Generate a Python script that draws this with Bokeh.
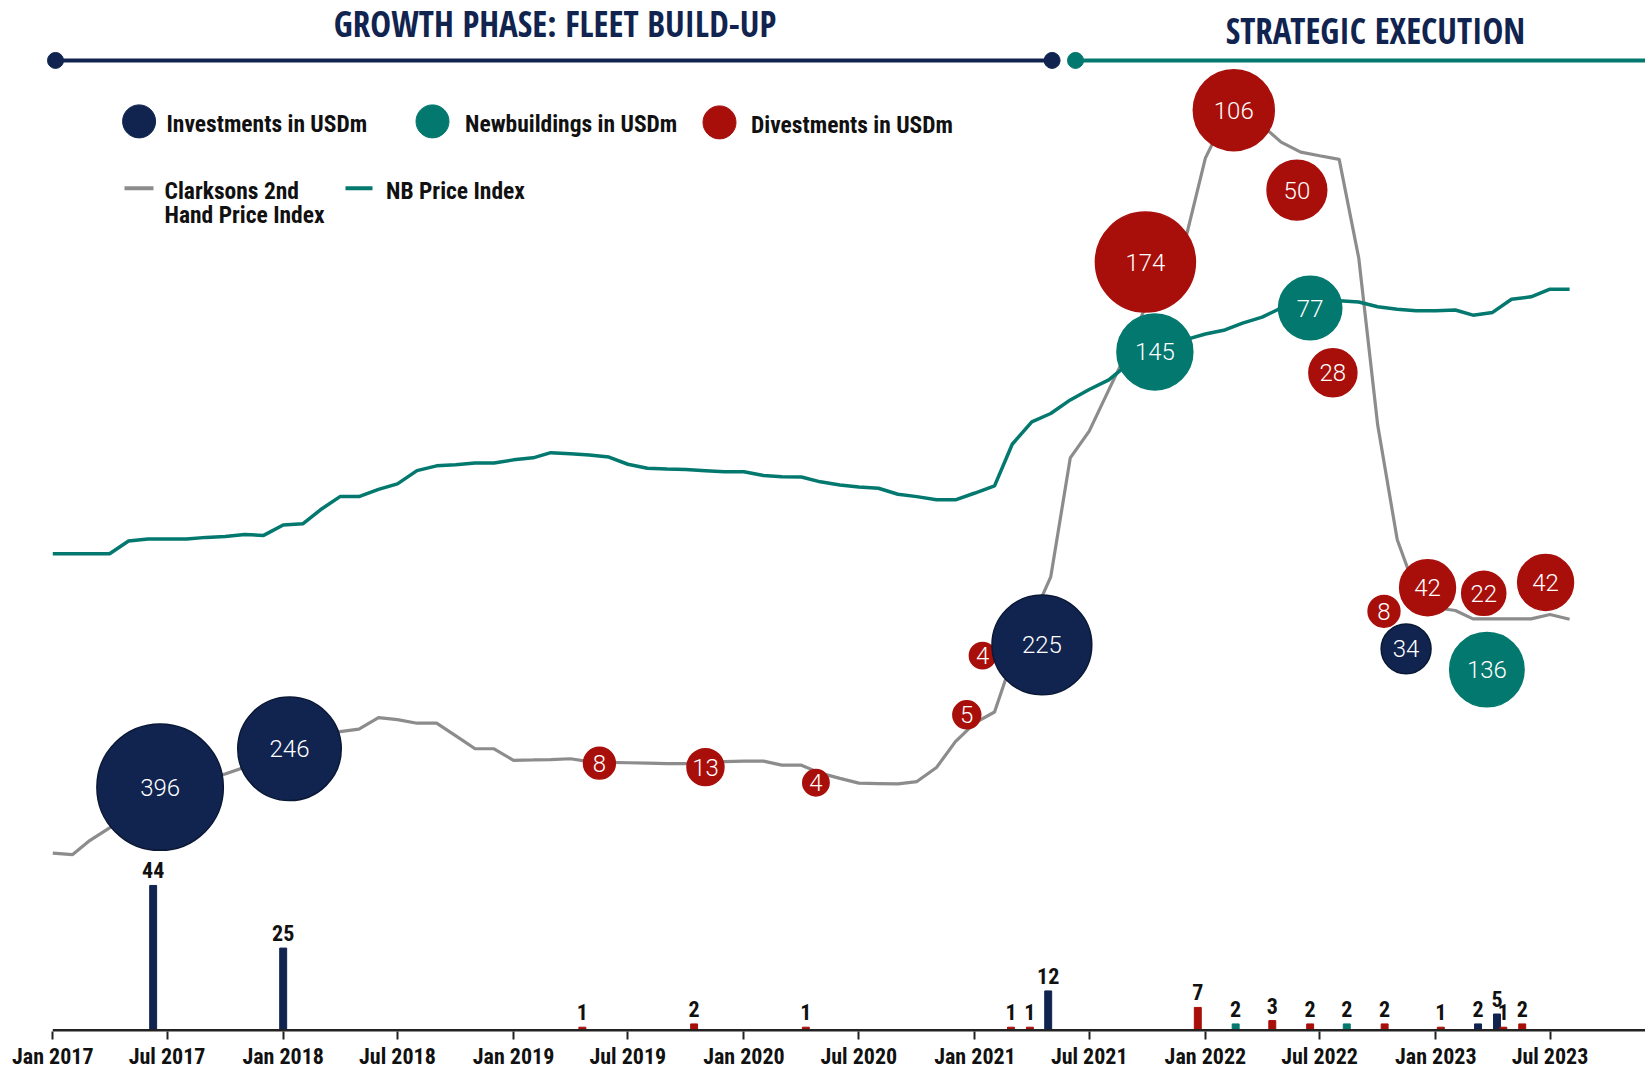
import math
import pandas as pd
from bokeh.plotting import figure
from bokeh.models import Range1d, DatetimeTickFormatter, MonthsTicker, ColumnDataSource
from bokeh.core.properties import value
from bokeh.embed import file_html
from bokeh.resources import INLINE

# ------------------------------------------------------------------ data
index_months = pd.date_range("2017-01-01", periods=80, freq="MS")
clarksons_2nd_hand = [44.4, 44.0, 47.6, 50.7, 53.3, 56.3, 59.0, 61.3, 62.8, 64.2,
                      65.9, 68.5, 70.8, 72.8, 74.3, 74.8, 75.4, 78.3, 77.8, 76.9,
                      76.9, 73.8, 70.5, 70.5, 67.6, 67.7, 67.8, 68.0, 67.3, 67.1,
                      67.0, 66.9, 66.8, 66.8, 67.0, 67.3, 67.4, 67.4, 66.4, 66.4,
                      64.4, 63.1, 61.9, 61.8, 61.7, 62.3, 65.8, 72.3, 77.0, 79.7,
                      92.8, 102.8, 113.5, 143.3, 150.0, 160.3, 170.5, 182.3, 190.0, 198.3,
                      218.3, 228.3, 229.8, 226.5, 222.3, 219.8, 218.9, 218.0, 193.3, 151.5,
                      122.8, 109.8, 105.8, 105.1, 103.0, 103.0, 103.0, 103.0, 104.1, 102.9]
nb_price_index = [119.3, 119.3, 119.3, 119.3, 122.5, 123.0, 123.0, 123.0, 123.4, 123.6,
                  124.1, 123.9, 126.5, 126.8, 130.3, 133.6, 133.6, 135.4, 136.8, 140.1,
                  141.3, 141.6, 142.0, 142.0, 142.8, 143.3, 144.6, 144.3, 144.0, 143.5,
                  141.7, 140.7, 140.5, 140.4, 140.1, 139.8, 139.8, 138.9, 138.6, 138.5,
                  137.3, 136.5, 136.0, 135.7, 134.2, 133.6, 132.8, 132.8, 134.5, 136.3,
                  146.7, 152.3, 154.4, 157.8, 160.4, 162.8, 166.8, 169.0, 171.0, 172.9,
                  174.3, 175.3, 177.0, 178.5, 180.8, 182.3, 182.8, 182.6, 182.3, 181.1,
                  180.5, 180.1, 180.1, 180.3, 179.0, 179.7, 183.0, 183.6, 185.5, 185.5]

inv_dates = ["2017-06-20", "2018-01-11", "2021-04-17", "2022-11-15"]
inv_usdm = [396, 246, 225, 34]
inv_level = [60.9, 70.5, 96.5, 95.5]

nb_dates = ["2021-10-13", "2022-06-16", "2023-03-23"]
nb_usdm = [145, 77, 136]
nb_level = [169.8, 180.8, 90.3]

div_dates = ["2019-05-17", "2019-11-01", "2020-04-24", "2020-12-19", "2021-01-13",
             "2021-09-28", "2022-02-15", "2022-05-26", "2022-07-22", "2022-10-11",
             "2022-12-19", "2023-03-18", "2023-06-24"]
div_usdm = [8, 13, 4, 5, 4, 174, 106, 50, 28, 8, 42, 22, 42]
div_level = [66.9, 65.9, 62.0, 79.0, 93.8, 192.3, 230.3, 210.3, 164.6, 104.9,
             110.8, 109.4, 112.1]

bar_dates = ["2017-06-09", "2018-01-01", "2019-04-20", "2019-10-14", "2020-04-08",
             "2021-02-27", "2021-03-29", "2021-04-27", "2021-12-20", "2022-02-18",
             "2022-04-17", "2022-06-16", "2022-08-13", "2022-10-12", "2023-01-09",
             "2023-03-09", "2023-04-08", "2023-04-18", "2023-05-18"]
bar_vessels = [44, 25, 1, 2, 1, 1, 1, 12, 7, 2, 3, 2, 2, 2, 1, 2, 5, 1, 2]
bar_kind = ["inv", "inv", "div", "div", "div", "div", "div", "inv", "div", "nb",
            "div", "div", "nb", "div", "div", "inv", "inv", "div", "div"]

phase_titles = ["GROWTH PHASE: FLEET BUILD-UP", "STRATEGIC EXECUTION"]
bubble_legend = ["Investments in USDm", "Newbuildings in USDm", "Divestments in USDm"]
line_legend = ["Clarksons 2nd", "Hand Price Index", "NB Price Index"]

# ------------------------------------------------------------------ style
NAVY = "#10244f"
TEAL = "#03786e"
RED = "#a80f0b"
GREY = "#8c8c8c"
KIND_COLOR = {"inv": NAVY, "nb": TEAL, "div": RED}
LIGHT_FONT = "Roboto Light, Roboto"
COND_FONT = "Roboto Condensed"
TITLE_FONT = "Open Sans Condensed"
# bubble radius (px) = a + b * sqrt(value), per series
BUBBLE_SCALE = {"div": (6.6, 3.29), "inv": (9.1, 2.72), "nb": (14.7, 1.93)}

# ------------------------------------------------------------------ layout helpers
W, H = 1645, 1071
PX_PER_DAY = 0.6312
JAN17_PX = 52.3          # page x of Jan 2017
BASE_PX = 1031.0         # page y of the baseline
FRAME_BOTTOM_PX = 1032.0
PX_PER_UNIT = 4.0        # index units
PX_PER_VESSEL = 3.3
T0 = pd.Timestamp("2017-01-01")


def ms(d):
    return pd.Timestamp(d).value / 1e6


def px_x(px):
    return ms(T0 + pd.Timedelta(days=(px - JAN17_PX) / PX_PER_DAY))


def px_y(py):
    return (BASE_PX - py) / PX_PER_UNIT


def radius(kind, v):
    a, b = BUBBLE_SCALE[kind]
    return a + b * math.sqrt(v)


x_start, x_end = px_x(0), px_x(W)

p = figure(width=W, height=H, x_axis_type="datetime", output_backend="svg",
           toolbar_location=None, y_axis_location=None,
           x_range=Range1d(x_start, x_end),
           y_range=Range1d(px_y(FRAME_BOTTOM_PX), px_y(0)),
           min_border_left=0, min_border_right=0, min_border_top=0,
           min_border_bottom=int(H - FRAME_BOTTOM_PX))
p.extra_y_ranges = {"bars": Range1d(-(FRAME_BOTTOM_PX - BASE_PX) / PX_PER_VESSEL,
                                    BASE_PX / PX_PER_VESSEL)}
p.grid.grid_line_color = None
p.outline_line_color = None

ax = p.xaxis[0]
ax.ticker = MonthsTicker(months=[0, 6])
ax.formatter = DatetimeTickFormatter(months="%b %Y", days="%b %Y", years="%b %Y")
ax.axis_line_color = None
ax.major_tick_out = 8
ax.major_tick_in = 0
ax.major_tick_line_width = 2
ax.major_tick_line_color = "#222222"
ax.minor_tick_line_color = None
ax.major_label_text_font = COND_FONT
ax.major_label_text_font_size = "22px"
ax.major_label_text_font_style = "bold"
ax.major_label_text_color = "#111111"
ax.major_label_standoff = 4

# ------------------------------------------------------------------ index lines
p.line([ms(d) for d in index_months], clarksons_2nd_hand, line_color=GREY, line_width=3.2)
p.line([ms(d) for d in index_months], nb_price_index, line_color=TEAL, line_width=3.5)

# ------------------------------------------------------------------ bars
bars = ColumnDataSource(dict(
    x=[ms(d) for d in bar_dates], top=bar_vessels,
    color=[KIND_COLOR[k] for k in bar_kind], label=[str(v) for v in bar_vessels]))
p.vbar(x="x", top="top", bottom=0, width=11 * 86400000, color="color",
       source=bars, y_range_name="bars")
p.text(x="x", y="top", text="label", source=bars, y_range_name="bars",
       text_align="center", text_baseline="bottom", y_offset=-7,
       text_font=value(COND_FONT), text_font_size="22px", text_font_style="bold",
       text_color="#111111")
p.segment(x0=[ms(T0)], y0=[0], x1=[x_end], y1=[0], y_range_name="bars",
          line_color="#222222", line_width=3)

# ------------------------------------------------------------------ bubbles
for kind, dates, vals, lev, outline in [
        ("div", div_dates, div_usdm, div_level, RED),
        ("inv", inv_dates, inv_usdm, inv_level, "#0a1836"),
        ("nb", nb_dates, nb_usdm, nb_level, TEAL)]:
    src = ColumnDataSource(dict(x=[ms(d) for d in dates], y=lev,
                                size=[2 * radius(kind, v) for v in vals],
                                label=[str(v) for v in vals]))
    p.scatter(x="x", y="y", size="size", source=src, marker="circle",
              fill_color=KIND_COLOR[kind], line_color=outline, line_width=1.5)
    p.text(x="x", y="y", text="label", source=src, text_align="center",
           text_baseline="middle", text_font=value(LIGHT_FONT), text_font_size="24px",
           text_color="white")

# ------------------------------------------------------------------ phase header
p.segment(x0=[px_x(55)], y0=[px_y(60)], x1=[px_x(1051.6)], y1=[px_y(60)],
          line_color=NAVY, line_width=4)
p.segment(x0=[px_x(1075)], y0=[px_y(60)], x1=[px_x(1660)], y1=[px_y(60)],
          line_color=TEAL, line_width=4)
p.scatter([px_x(55), px_x(1051.6)], [px_y(60)] * 2, size=16, color=NAVY)
p.scatter([px_x(1075)], [px_y(60)], size=16, color=TEAL)
p.text(x=[px_x(554.5), px_x(1375)], y=[px_y(23), px_y(30)], text=phase_titles,
       text_align="center", text_baseline="middle", text_font=value(TITLE_FONT),
       text_font_size="35px", text_font_style="bold", text_color=NAVY)

# ------------------------------------------------------------------ legend
p.scatter([px_x(138.6), px_x(432), px_x(719)], [px_y(121), px_y(121), px_y(122)],
          size=33, color=[NAVY, TEAL, RED])
p.text(x=[px_x(166), px_x(464.5), px_x(750.5)], y=[px_y(124), px_y(124), px_y(125)],
       text=bubble_legend, text_align="left", text_baseline="middle",
       text_font=value(COND_FONT), text_font_size="23.5px", text_font_style="bold",
       text_color="#111111")
p.segment(x0=[px_x(124), px_x(345)], y0=[px_y(188)] * 2,
          x1=[px_x(153), px_x(372)], y1=[px_y(188)] * 2,
          line_color=[GREY, TEAL], line_width=4)
p.text(x=[px_x(164), px_x(164), px_x(385.5)], y=[px_y(191), px_y(215), px_y(191)],
       text=line_legend, text_align="left", text_baseline="middle",
       text_font=value(COND_FONT), text_font_size="23.5px", text_font_style="bold",
       text_color="#111111")

open("out.html", "w").write(file_html(p, INLINE))
